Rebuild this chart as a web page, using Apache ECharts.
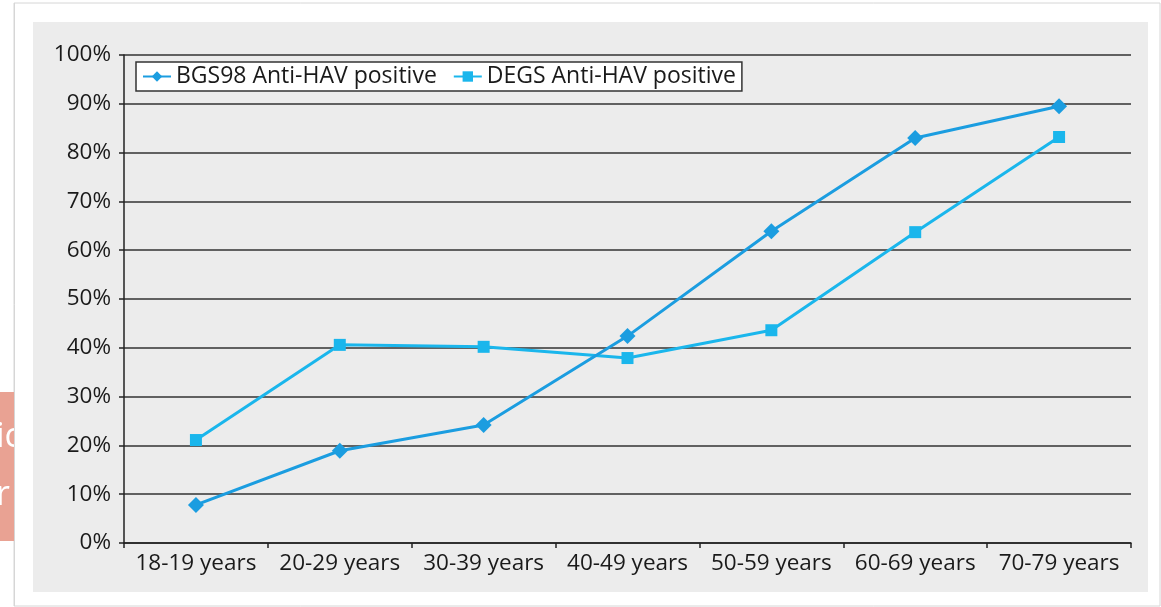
<!DOCTYPE html>
<html>
<head>
<meta charset="utf-8">
<script src="https://cdn.jsdelivr.net/npm/echarts@6/dist/echarts.min.js"></script>
<style>
    html, body { margin: 0; padding: 0; background: #fff; }
    #chart { width: 1161px; height: 607px; }
</style>
</head>
<body>
<div id="chart"></div>
<script>
// 年龄组
var ageGroups = ['18-19 years', '20-29 years', '30-39 years', '40-49 years', '50-59 years', '60-69 years', '70-79 years'];
// 两次调查的阳性率 (%)
var bgs98 = [7.8, 18.9, 24.2, 42.4, 63.9, 83.0, 89.5];
var degs = [21.1, 40.6, 40.2, 37.9, 43.6, 63.7, 83.2];
var seriesNames = ['BGS98 Anti-HAV positive', 'DEGS Anti-HAV positive'];

var font = 'Open Sans';
var myChart = echarts.init(document.getElementById('chart'));

var option = {
    animation: false,
    textStyle: { fontFamily: font },
    graphic: [
        // 外框
        { type: 'rect', z: -10, shape: { x: 14, y: 3, width: 1146, height: 603 },
          style: { fill: '#fff', stroke: '#d6d6d6', lineWidth: 1 } },
        // 灰色背景
        { type: 'rect', z: -9, shape: { x: 33, y: 22, width: 1115, height: 570 },
          style: { fill: '#ececec' } },
        // 左边残留的色块
        { type: 'rect', z: -8, shape: { x: 0, y: 392, width: 14, height: 149 },
          style: { fill: '#e9a293' } },
        { type: 'text', z: -7, left: -4, top: 420,
          style: { text: 'ic', fill: '#fff', font: '34px ' + font } },
        { type: 'text', z: -7, left: -4, top: 478,
          style: { text: 'r', fill: '#fff', font: '34px ' + font } },
        { type: 'rect', z: -6, shape: { x: 14, y: 380, width: 18, height: 170 },
          style: { fill: '#fff' } },
        { type: 'line', z: -5, shape: { x1: 14.5, y1: 3, x2: 14.5, y2: 606 },
          style: { stroke: '#d6d6d6', lineWidth: 1 } }
    ],
    legend: {
        left: 136,
        top: 62,
        itemGap: 16,
        itemWidth: 28,
        itemHeight: 13,
        padding: [3, 6, 3, 6],
        backgroundColor: '#fff',
        borderColor: '#333',
        borderWidth: 1.5,
        borderRadius: 0,
        textStyle: { fontSize: 23, color: '#1a1a1a', fontFamily: font },
        data: seriesNames
    },
    grid: {
        left: 124,
        right: 30,
        top: 55,
        bottom: 64
    },
    xAxis: {
        type: 'category',
        data: ageGroups,
        boundaryGap: true,
        axisLine: { lineStyle: { color: '#222', width: 1.5 } },
        axisTick: { show: true, length: 5, lineStyle: { color: '#222', width: 1.5 } },
        axisLabel: { fontSize: 22.5, color: '#1a1a1a', margin: 9, interval: 0 }
    },
    yAxis: {
        type: 'value',
        min: 0,
        max: 100,
        interval: 10,
        axisLine: { show: true, lineStyle: { color: '#222', width: 1.5 } },
        axisTick: { show: true, length: 5, lineStyle: { color: '#222', width: 1.5 } },
        axisLabel: { fontSize: 22.5, color: '#1a1a1a', margin: 13, formatter: '{value}%' },
        splitLine: { lineStyle: { color: '#333', width: 1.5 } }
    },
    series: [
        {
            name: seriesNames[0],
            type: 'line',
            data: bgs98,
            symbol: 'diamond',
            symbolSize: 16,
            color: '#1b9de0',
            lineStyle: { width: 3 },
            z: 3
        },
        {
            name: seriesNames[1],
            type: 'line',
            data: degs,
            symbol: 'rect',
            symbolSize: 12,
            color: '#1ab6ec',
            lineStyle: { width: 3 },
            z: 2
        }
    ]
};
myChart.setOption(option);
</script>
</body>
</html>
